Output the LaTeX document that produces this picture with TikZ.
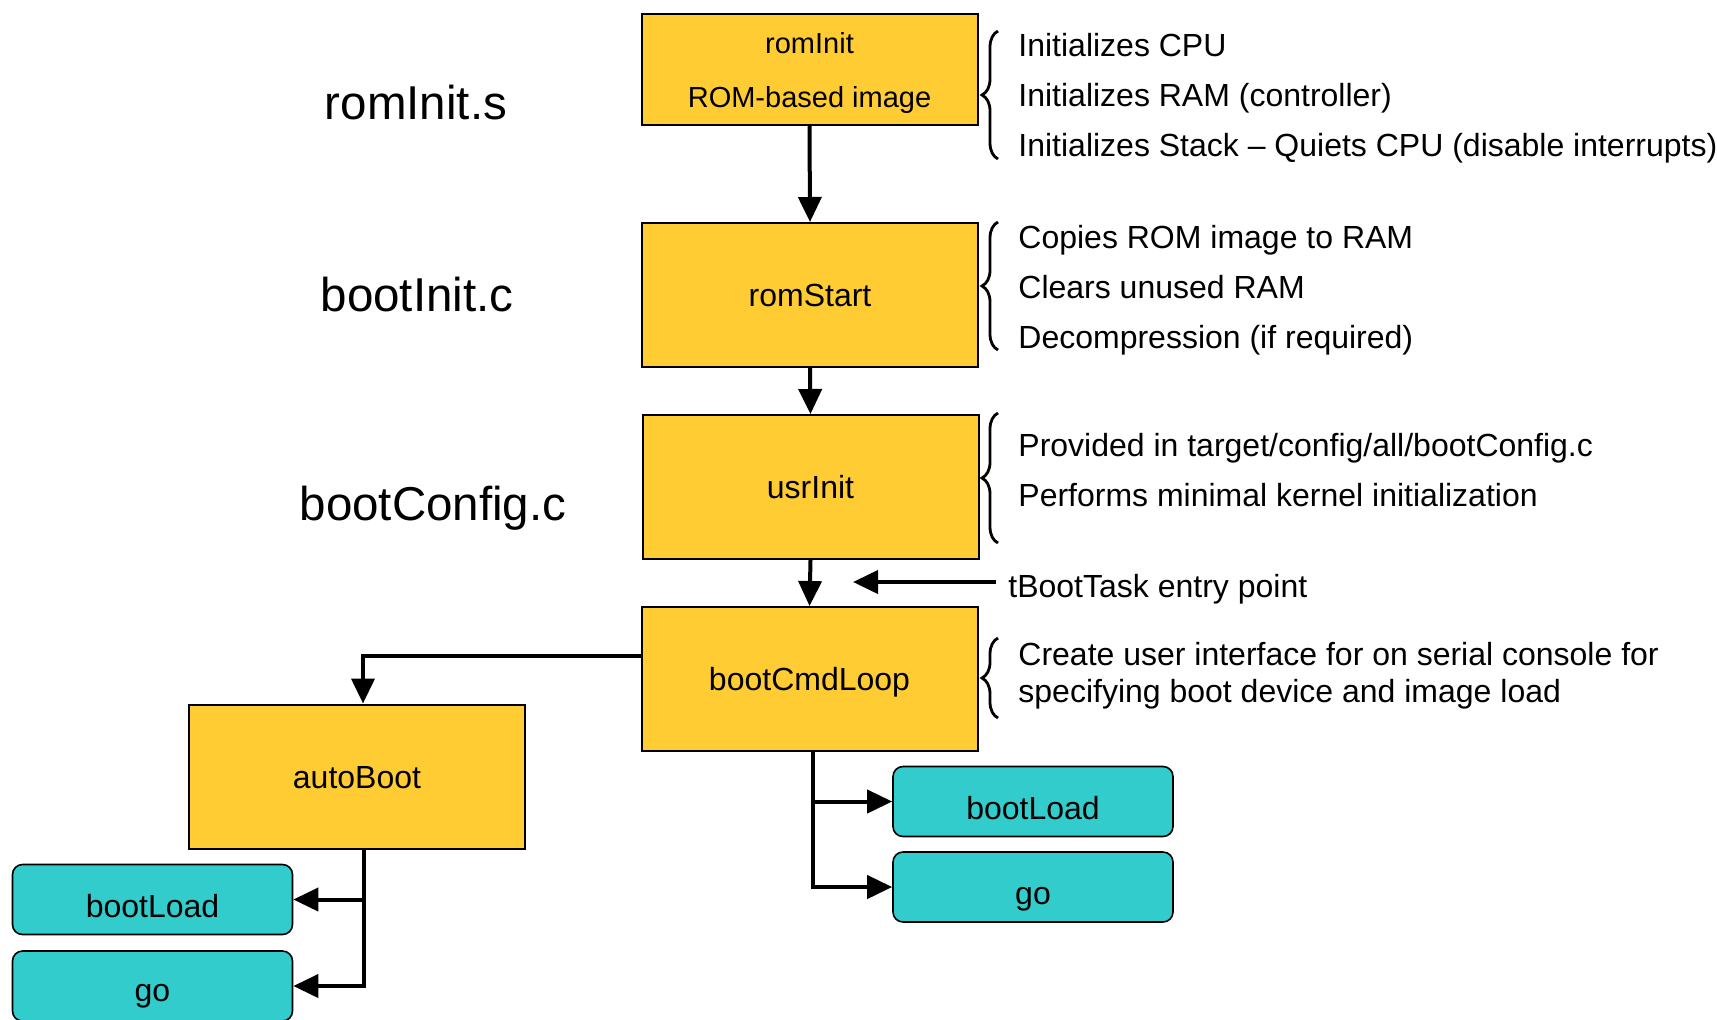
\documentclass[tikz,border=0pt]{standalone}
\usepackage{fontspec}
\setmainfont{Liberation Sans}
\usetikzlibrary{arrows.meta,decorations.pathreplacing}

\definecolor{stageyellow}{RGB}{255,204,51}
\definecolor{cmdcyan}{RGB}{51,204,204}

\tikzset{
	stage/.style={draw,fill=stageyellow,line width=1pt,minimum width=168pt,minimum height=72pt,inner sep=0pt,text height=11.5pt,text depth=0pt,font=\fontsize{16}{19}\selectfont},
	cmd/.style={draw,fill=cmdcyan,rounded corners=5pt,line width=0.8pt,minimum width=140pt,minimum height=35pt,inner sep=0pt,text height=18pt,text depth=0.5pt,font=\fontsize{16}{19}\selectfont},
	note/.style={anchor=west,align=left,inner sep=0pt,font=\fontsize{16}{25}\selectfont},
	srcfile/.style={anchor=base,inner sep=0pt,font=\fontsize{23.75}{28}\selectfont},
	flow/.style={line width=2pt,-{Triangle[length=12.5pt,width=11.5pt]}},
	bracket/.style={decorate,decoration={brace,amplitude=8pt},line width=1.4pt}
}

\begin{document}
\begin{tikzpicture}[x=0.5pt,y=-0.5pt]
	\useasboundingbox (0,0) rectangle (1717,1019);

	\node[draw,fill=stageyellow,line width=1pt,minimum width=168pt,minimum height=55.5pt,inner sep=0pt,align=center,text height=41.5pt,font=\fontsize{14.5}{27}\selectfont] (rominit) at (809.5,69.5) {romInit\\ROM-based image};

	\node[stage] (romstart) at (810,295) {romStart};

	\node[stage] (usrinit) at (810.5,487) {usrInit};

	\node[stage] (cmdloop) at (809.5,679) {bootCmdLoop};

	\node[stage] (autoboot) at (357,776.5) {autoBoot};

	\node[cmd] (rload) at (1033,801.5) {bootLoad};
	\node[cmd] (rgo) at (1033,887) {go};

	\node[cmd] (lload) at (152.5,899.5) {bootLoad};
	\node[cmd,text height=16pt] (lgo) at (152.5,986) {go};

	\node[srcfile] (romsrc) at (416,119) {romInit.s};
	\node[srcfile] (bootsrc) at (417,311.5) {bootInit.c};
	\node[srcfile] (cfgsrc) at (433,520) {bootConfig.c};

	\node[note] (romnote) at (1018,98) {Initializes CPU\\Initializes RAM (controller)\\Initializes Stack – Quiets CPU (disable interrupts)};
	\node[note] (startnote) at (1018,290) {Copies ROM image to RAM\\Clears unused RAM\\Decompression (if required)};
	\node[note] (usrnote) at (1018,470) {Provided in target/config/all/bootConfig.c\\Performs minimal kernel initialization};
	\node[note] (tboot) at (1008,589) {tBootTask entry point};
	\node[note,font=\fontsize{16}{18.5}\selectfont] (loopnote) at (1018,676) {Create user interface for on serial console for\\specifying boot device and image load};

	\draw[bracket] (998,159) -- (998,31);
	\draw[bracket] (998,350) -- (998,222);
	\draw[bracket] (998,543) -- (998,413);
	\draw[bracket] (998,718) -- (998,638);

	\draw[flow] (rominit.south) -- (romstart.north);
	\draw[flow] (romstart.south) -- (usrinit.north);
	\draw[flow] (usrinit.south) -- (cmdloop.north);

	\coordinate (entry) at (853,582);
	\draw[flow] ([shift={(-12,-7)}]tboot.west) -- (entry);

	\draw[flow] ([yshift=11.5pt]cmdloop.west) -| ([xshift=3pt]autoboot.north);

	\draw[flow] ([xshift=1.75pt]cmdloop.south) |- (rload.west);
	\draw[flow] ([xshift=1.75pt]cmdloop.south) |- (rgo.west);

	\draw[flow] ([xshift=3.5pt]autoboot.south) |- (lload.east);
	\draw[flow] ([xshift=3.5pt]autoboot.south) |- (lgo.east);
\end{tikzpicture}
\end{document}
